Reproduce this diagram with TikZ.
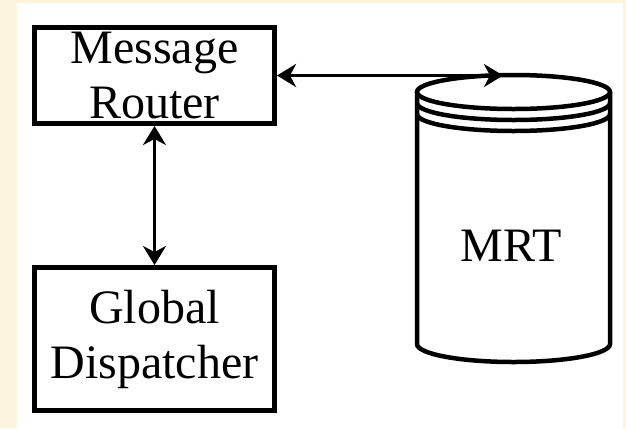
\documentclass[tikz,border=0pt]{standalone}
\usepackage{fontspec}
\setmainfont{Liberation Serif}
\usetikzlibrary{arrows.meta}
\definecolor{paper}{HTML}{FAF5DC}
\tikzset{
  label text/.style={font=\fontsize{48bp}{55bp}\selectfont},
  block/.style={draw=black, line width=5bp, fill=white, inner sep=0pt,
    align=center, label text},
  link/.style={line width=3.5bp, {Stealth[length=19bp,width=23bp,inset=6bp]}-{Stealth[length=19bp,width=23bp,inset=6bp]}},
  drum/.style={draw=black, line width=4.5bp},
}
\begin{document}
\begin{tikzpicture}[x=1bp,y=1bp]
  % page background with cream band on the left and top
  \fill[paper] (0,0) rectangle (626,-428);
  \fill[white] (17,-3) rectangle (623,-428);
  \useasboundingbox (0,0) rectangle (626,-428);

  % boxes
  \node[block, minimum width=240bp, minimum height=96bp] (mr) at (154.5,-75.5) {Message\\Router};
  \node[block, minimum width=240bp, minimum height=143bp] (gd) at (154.5,-339) {Global\\Dispatcher};

  % the MRT store drawn as a cylinder
  \draw[drum] (513.5,-92) ellipse [x radius=96.5, y radius=17];
  \draw[drum] (417,-103) arc[start angle=180, end angle=360, x radius=96.5, y radius=17];
  \draw[drum] (417,-114) arc[start angle=180, end angle=360, x radius=96.5, y radius=17];
  \draw[drum] (417,-92) -- (417,-344)
    arc[start angle=180, end angle=360, x radius=96.5, y radius=18] -- (610,-92);
  \node[label text, inner sep=0pt] (mrt) at (511,-246) {MRT};
  \coordinate (dbin) at (503,-75.5);

  % connectors
  \draw[link] (mr.east) -- (dbin);
  \draw[link] (mr.south) -- (gd.north);
\end{tikzpicture}
\end{document}
